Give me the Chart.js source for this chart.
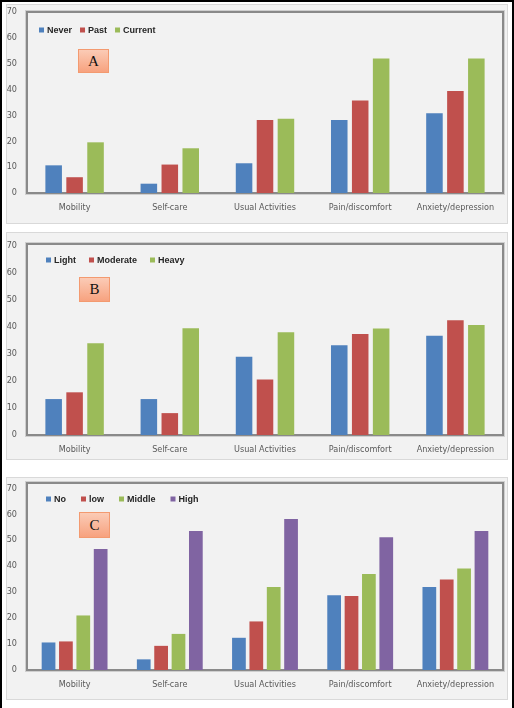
<!DOCTYPE html>
<html>
<head>
<meta charset="utf-8">
<title>EQ-5D problems by group</title>
<script src="https://cdn.jsdelivr.net/npm/chart.js@4.4.1/dist/chart.umd.min.js"></script>
<style>
    html, body { margin: 0; padding: 0; background: #ffffff; }
    body { position: relative; width: 514px; height: 708px; overflow: hidden; }
    .frame { position: absolute; left: 0; top: 0; width: 514px; height: 708px; box-sizing: border-box;
             border: 2px solid #000; border-bottom: none; }
    .panel { position: absolute; left: 6px; width: 502px; box-sizing: border-box;
             background: #f2f2f2; border: 1px solid #d9d9d9; }
    .panel canvas { display: block; }
    .tag { position: absolute; width: 31px; box-sizing: border-box; border: 1px solid #f39a70;
           background: linear-gradient(#fbcbb6, #f7a27f); color: #111;
           font: 15px 'Liberation Serif', 'DejaVu Serif', serif; text-align: center; }
</style>
</head>
<body>
<div class="panel" style="top:4px;height:220px"><canvas id="chartA" width="500" height="218"></canvas></div>
<div class="panel" style="top:232px;height:228px"><canvas id="chartB" width="500" height="226"></canvas></div>
<div class="panel" style="top:477px;height:223px"><canvas id="chartC" width="500" height="221"></canvas></div>
<div class="tag" style="left:78px;top:49px;height:24px;line-height:22px">A</div>
<div class="tag" style="left:79px;top:277px;height:25px;line-height:23px">B</div>
<div class="tag" style="left:79px;top:512px;height:26px;line-height:24px">C</div>
<div class="frame"></div>

<script>
// Data (percent reporting problems)
const categories = ['Mobility', 'Self-care', 'Usual Activities', 'Pain/discomfort', 'Anxiety/depression'];
const yTicks = [0, 10, 20, 30, 40, 50, 60, 70];

// A: smoking status
const smokingLabels = ['Never', 'Past', 'Current'];
const smokingNever = [10.7, 3.6, 11.5, 28.2, 30.8];
const smokingPast = [6.1, 11.0, 28.2, 35.8, 39.4];
const smokingCurrent = [19.6, 17.3, 28.7, 52.0, 52.0];

// B: smoking intensity
const intensityLabels = ['Light', 'Moderate', 'Heavy'];
const intensityLight = [13.3, 13.3, 29.0, 33.2, 36.7];
const intensityModerate = [15.8, 8.1, 20.5, 37.4, 42.5];
const intensityHeavy = [34.0, 39.5, 38.0, 39.4, 40.7];

// C: dependence level
const dependenceLabels = ['No', 'low', 'Middle', 'High'];
const dependenceNo = [10.6, 4.1, 12.4, 28.8, 32.0];
const dependenceLow = [11.0, 9.3, 18.7, 28.5, 34.8];
const dependenceMiddle = [21.0, 13.9, 32.0, 37.0, 39.1];
const dependenceHigh = [46.6, 53.5, 58.1, 51.1, 53.5];

const colors = ['#4f81bd', '#c0504d', '#9bbb59', '#8064a2'];
const narrowFont = "'Liberation Sans Narrow', 'DejaVu Sans Condensed', sans-serif";

// gray frame around the plot area
const plotFrame = {
    id: 'plotFrame',
    beforeDatasetsDraw(chart) {
        const { ctx, chartArea: a } = chart;
        ctx.save();
        ctx.strokeStyle = '#cfcfcf';
        ctx.lineWidth = 1;
        ctx.strokeRect(a.left - 1.5, a.top - 1.5, a.right - a.left + 3, a.bottom - a.top + 3);
        ctx.strokeStyle = '#8a8a8a';
        ctx.lineWidth = 2;
        ctx.strokeRect(a.left, a.top, a.right - a.left, a.bottom - a.top);
        ctx.restore();
    }
};

// one-row legend drawn inside the plot area, top left
const legendRow = {
    id: 'legendRow',
    afterDatasetsDraw(chart, args, opts) {
        const { ctx, chartArea: a } = chart;
        let x = a.left + opts.x;
        const y = a.top + opts.y;
        ctx.save();
        ctx.font = "bold 9px 'Liberation Sans', Arial, sans-serif";
        ctx.textBaseline = 'middle';
        chart.data.datasets.forEach(ds => {
            ctx.fillStyle = ds.backgroundColor;
            ctx.fillRect(x, y - 2.5, 5, 5);
            x += 8;
            ctx.fillStyle = '#262626';
            ctx.fillText(ds.label, x, y + 0.5);
            x += ctx.measureText(ds.label).width + opts.gap;
        });
        ctx.restore();
    }
};

// labels may overhang the plot box; don't let them shrink it
function noScalePadding(axis) {
    axis.paddingTop = 0;
    axis.paddingBottom = 0;
    axis.paddingLeft = 0;
    axis.paddingRight = 0;
}

function makePanel(id, seriesLabels, seriesValues, opts) {
    const datasets = seriesValues.map((values, i) => ({
        label: seriesLabels[i],
        data: values,
        backgroundColor: colors[i],
        borderWidth: 0,
        categoryPercentage: opts.catPct,
        barPercentage: opts.barPct
    }));

    const canvas = document.getElementById(id);
    return new Chart(canvas.getContext('2d'), {
        type: 'bar',
        data: { labels: categories, datasets: datasets },
        options: {
            responsive: false,
            animation: false,
            devicePixelRatio: 1,
            layout: { padding: { top: opts.top, right: 4, bottom: 0, left: 0 } },
            plugins: {
                tooltip: { enabled: false },
                legend: { display: false },
                legendRow: opts.legend
            },
            scales: {
                x: {
                    grid: { display: false, drawTicks: false },
                    border: { display: false },
                    ticks: { padding: 9, color: '#595959', maxRotation: 0, font: { family: narrowFont, size: 9 } },
                    afterFit: (axis) => {
                        noScalePadding(axis);
                        axis.height = canvas.height - opts.bottom;
                    }
                },
                y: {
                    min: 0,
                    max: opts.max,
                    grid: { display: false, drawTicks: false },
                    border: { display: false },
                    ticks: { padding: 10, color: '#595959', font: { family: narrowFont, size: 9 } },
                    afterBuildTicks: (axis) => { axis.ticks = yTicks.map(v => ({ value: v })); },
                    afterFit: (axis) => {
                        noScalePadding(axis);
                        axis.width = 20;
                    }
                }
            }
        },
        plugins: [plotFrame, legendRow]
    });
}

makePanel('chartA', smokingLabels, [smokingNever, smokingPast, smokingCurrent],
    { top: 7, bottom: 188, max: 70, catPct: 0.66, barPct: 0.79, legend: { x: 12, y: 18, gap: 8 } });
makePanel('chartB', intensityLabels, [intensityLight, intensityModerate, intensityHeavy],
    { top: 11, bottom: 202, max: 70.7, catPct: 0.66, barPct: 0.79, legend: { x: 19, y: 16, gap: 13 } });
makePanel('chartC', dependenceLabels, [dependenceNo, dependenceLow, dependenceMiddle, dependenceHigh],
    { top: 5, bottom: 192, max: 72, catPct: 0.73, barPct: 0.79, legend: { x: 19, y: 16, gap: 15 } });
</script>
</body>
</html>
